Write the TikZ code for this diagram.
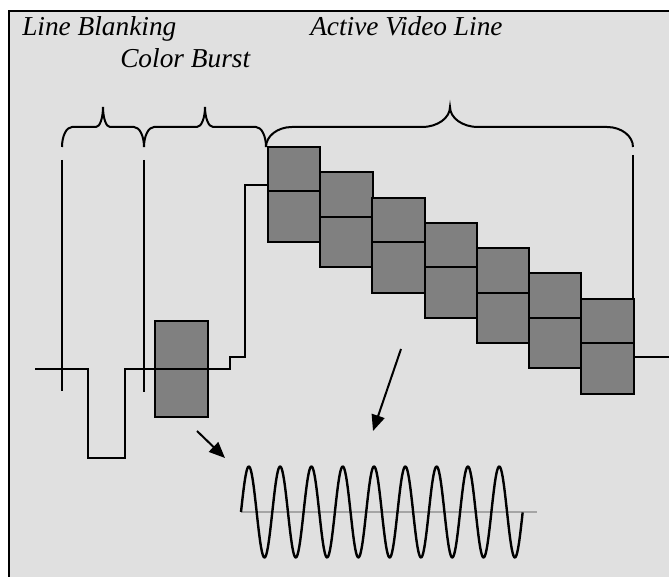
\documentclass[tikz,border=0pt]{standalone}
\usepackage{fontspec}
\setmainfont{Liberation Serif}
\usetikzlibrary{arrows.meta}
\definecolor{bgfill}{RGB}{224,224,224}
\definecolor{boxgray}{RGB}{128,128,128}
\definecolor{axisgray}{RGB}{165,165,165}
\newcommand\mycurlybrace[5]{% x1, x2, xm, r, t
  \draw[sig] (#1,147) .. controls (#1,136) and ({#1+0.448*#4},127) .. ({#1+#4},127)
   -- ({#3-#5},127) .. controls ({#3-0.448*#5},127) and (#3,118) .. (#3,107)
   .. controls (#3,118) and ({#3+0.448*#5},127) .. ({#3+#5},127)
   -- ({#2-#4},127) .. controls ({#2-0.448*#4},127) and (#2,136) .. (#2,147);}
\begin{document}
\begin{tikzpicture}[x=0.75pt,y=-0.75pt,
  sig/.style={line width=1.5pt,black},
  boxst/.style={line width=1.5pt,draw=black,fill=boxgray},
  lbl/.style={font=\fontsize{20.5}{24}\selectfont\itshape,inner sep=0pt,anchor=base west},
  arr/.style={line width=1.5pt,-{Triangle[length=12pt,width=10pt]}}]
\useasboundingbox (0,0) rectangle (669,577);
\fill[white] (0,0) rectangle (669,577);
\fill[bgfill] (9,11) rectangle (669,577);
\draw[line width=1.5pt] (9,577) -- (9,11) -- (669,11);
% labels
\node[lbl] (lb) at (22,36) {Line Blanking};
\node[lbl] (cb) at (120,68) {Color Burst};
\node[lbl] (av) at (310,36) {Active Video Line};
% braces
\mycurlybrace{62}{144}{103}{10}{7}
\mycurlybrace{144}{266}{205}{10}{8}
\mycurlybrace{266}{633}{450}{26}{28}
% marker lines
\draw[sig] (62,160) -- (62,391);
\draw[sig] (144,160) -- (144,392);
\draw[sig] (633,155) -- (633,300);
% colour burst box
\draw[boxst] (155,321) rectangle (208,417);
% signal
\draw[sig] (35,369) -- (88,369) -- (88,458) -- (125,458) -- (125,369) -- (230,369)
  -- (230,357) -- (245,357) -- (245,185) -- (268,185);
\draw[line width=1.2pt] (634,357) -- (669,357);
% active video boxes
\foreach \i in {0,...,6}{
  \pgfmathsetmacro\bx{268+52.2*\i}
  \pgfmathsetmacro\by{147+25.3*\i}
  \draw[boxst] (\bx,\by) rectangle ++(52.3,44.5);
  \draw[boxst] (\bx,\by+44.5) rectangle ++(52.3,50.5);
}
% arrows
\coordinate (a1s) at (197,431);
\coordinate (a1e) at (225,458);
\coordinate (a2s) at (401,349);
\coordinate (a2e) at (373,431);
\draw[arr] (a1s) -- (a1e);
\draw[arr] (a2s) -- (a2e);
% sine
\draw[axisgray,line width=0.9pt] (241,512) -- (537,512);
\draw[line width=1.8pt,black,line join=round] plot[domain=0:9,samples=400,smooth] ({241+31.3*\x},{512-45.5*sin(360*\x)});
\end{tikzpicture}
\end{document}
